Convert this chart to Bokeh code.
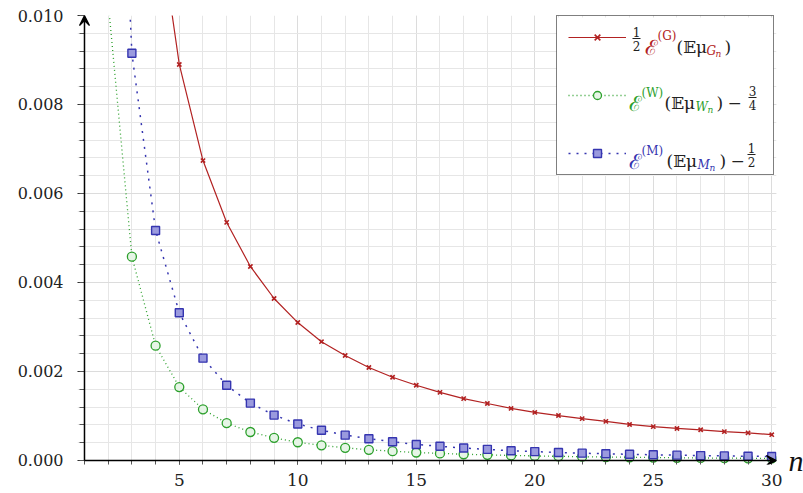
from bokeh.plotting import figure
from bokeh.models import (Range1d, SingleIntervalTicker, FixedTicker, PrintfTickFormatter,
                          Legend, LegendItem, Label, Arrow, VeeHead, BoxAnnotation, LinearAxis)
from bokeh.embed import file_html
from bokeh.resources import INLINE

# ---------------- data ----------------
n_g = list(range(4, 31))
g_half = [0.0126, 0.00890, 0.00674, 0.00535, 0.00436, 0.00364, 0.00310, 0.00267,
          0.00236, 0.00209, 0.00187, 0.00169, 0.00153, 0.00139, 0.00128, 0.00117,
          0.00108, 0.00101, 0.00094, 0.00088, 0.00081, 0.00076, 0.00072, 0.00069,
          0.00065, 0.00062, 0.00058]

n_w = list(range(2, 31))
w_minus = [0.0103, 0.00458, 0.00258, 0.00165, 0.00115, 0.00084, 0.00064, 0.00051,
           0.00041, 0.00034, 0.000285, 0.00024, 0.00021, 0.00018, 0.00016, 0.00014,
           0.000127, 0.000114, 0.000103, 0.000093, 0.000085, 0.000078, 0.000072,
           0.000066, 0.000061, 0.000057, 0.000053, 0.000049, 0.000046]

n_m = list(range(2, 31))
m_minus = [0.0205, 0.00915, 0.00517, 0.00332, 0.00230, 0.00169, 0.00129, 0.00102,
           0.00082, 0.00068, 0.00057, 0.00049, 0.00042, 0.00036, 0.00032, 0.00028,
           0.00025, 0.00022, 0.000200, 0.000180, 0.000165, 0.000150, 0.000140,
           0.000128, 0.000120, 0.000110, 0.000103, 0.000096, 0.000090]

x_major = 5          # major tick interval on n
y_major = 0.002      # major tick interval on the value axis

# axes origin (1, 0); ranges padded a few pixels so the arrows are not clipped
X0, Y0 = 1, 0.0
XMIN, XMAX = 0.705, 30.2
YMIN, YMAX = -0.00009, 0.010
FW, FH = 699, 449            # frame size in px
FL, FT = 77, 15              # frame left / top offsets in px

RED = "#b22222"
GREEN = "#2ca02c"
BLUE = "#3535b0"
BLUE_FILL = "#9a9ade"
SERIF = "DejaVu Serif"

p = figure(output_backend="svg", toolbar_location=None,
           frame_width=FW, frame_height=FH,
           x_range=Range1d(XMIN, XMAX), y_range=Range1d(YMIN, YMAX),
           min_border_left=FL, min_border_top=FT, min_border_right=0, min_border_bottom=0)
p.outline_line_color = None
p.background_fill_color = "white"

# axes (ticks drawn inward from the padded frame edge so they meet the arrow axes)
p.xaxis.ticker = SingleIntervalTicker(interval=x_major, num_minor_ticks=5)
p.yaxis.ticker = SingleIntervalTicker(interval=y_major, num_minor_ticks=5)
p.yaxis.formatter = PrintfTickFormatter(format="%.3f")
for ax in (p.xaxis, p.yaxis):
    ax.axis_line_color = None
    ax.major_tick_line_color = "#333333"
    ax.minor_tick_line_color = "#555555"
    ax.major_tick_out = 0
    ax.major_label_text_font = SERIF
    ax.major_label_text_color = "#222222"
p.xaxis.major_label_text_font_size = "17px"
p.yaxis.major_label_text_font_size = "16px"
p.xaxis.major_tick_in = 4
p.xaxis.minor_tick_in = 4
p.xaxis.minor_tick_out = 0
p.xaxis.major_label_standoff = 9
p.yaxis.major_tick_in = 7
p.yaxis.minor_tick_in = 7
p.yaxis.minor_tick_out = -2
p.yaxis.major_label_standoff = 14

# "n" written at the end of the horizontal axis (right-hand axis with a single label)
n_axis = LinearAxis(ticker=FixedTicker(ticks=[Y0]), major_label_overrides={Y0: "n"},
                    axis_line_color=None, major_tick_line_color=None,
                    minor_tick_line_color=None, major_label_standoff=6,
                    major_label_text_font="Liberation Serif",
                    major_label_text_font_style="italic",
                    major_label_text_font_size="30px", major_label_text_color="#111111")
p.add_layout(n_axis, "right")

# grids
for g in (p.xgrid, p.ygrid):
    g.grid_line_color = "#dcdcdc"
    g.minor_grid_line_color = "#e6e6e6"
    g.grid_line_width = 1

# series
r_g_line = p.line(n_g, g_half, line_color=RED, line_width=1.2)
r_g_pts = p.scatter(n_g, g_half, marker="x", size=6, line_color=RED, line_width=1.6)

r_w_line = p.line(n_w, w_minus, line_color=GREEN, line_width=1.3, line_dash="1 3")
r_w_pts = p.scatter(n_w, w_minus, marker="circle", size=9, line_color=GREEN,
                    fill_color="#e6f5e6", line_width=1.3)

r_m_line = p.line(n_m, m_minus, line_color=BLUE, line_width=1.5, line_dash="2 6")
r_m_pts = p.scatter(n_m, m_minus, marker="square", size=8, line_color=BLUE,
                    fill_color=BLUE_FILL, line_width=1.4)

# axis lines with arrows
head_kw = dict(size=10, fill_color="black", line_color="black", line_width=1.2)
p.add_layout(Arrow(end=VeeHead(**head_kw), x_start=X0, y_start=Y0, x_end=X0, y_end=YMAX,
                   line_color="black", line_width=1.5, level="overlay"))
p.add_layout(Arrow(end=VeeHead(**head_kw), x_start=X0, y_start=Y0, x_end=XMAX, y_end=Y0,
                   line_color="black", line_width=1.5, level="overlay"))


# page pixel positions -> data coordinates through the plot's own scale
def dx(px):
    return XMIN + (px - FL) / FW * (XMAX - XMIN)


def dy(py):
    return YMAX - (py - FT) / FH * (YMAX - YMIN)


# legend background (white box), then rich text, then the legend (samples + border)
LEG_L, LEG_R, LEG_T, LEG_B = 556, 773, 17, 175
p.add_layout(BoxAnnotation(left=dx(LEG_L), right=dx(LEG_R), top=dy(LEG_T), bottom=dy(LEG_B),
                           fill_color="white", fill_alpha=1, line_color=None,
                           level="overlay"))


def piece(text, px, py, size, color="#222222", style="normal", align="left", base="alphabetic"):
    p.add_layout(Label(x=dx(px), y=dy(py), text=text,
                       text_font=SERIF, text_font_size=f"{size}px", text_color=color,
                       text_font_style=style, text_align=align, text_baseline=base,
                       level="overlay"))


def frac(num, den, cx, cy):
    piece(num, cx, cy - 2, 12, align="center", base="bottom")
    piece(den, cx, cy + 2, 12, align="center", base="top")
    p.add_layout(BoxAnnotation(left=dx(cx - 4), right=dx(cx + 4),
                               bottom=dy(cy + 0.5), top=dy(cy - 0.5),
                               fill_color="#222222", fill_alpha=1, line_color=None,
                               level="overlay"))


# entry 1: 1/2 E^(G)(E mu_{G_n})
frac("1", "2", 636, 38)
piece("ℰ", 644, 47, 21, RED)
piece("(G)", 657, 35, 12, RED)
piece("(𝔼μ", 676, 46, 17)
piece("G", 706, 50, 12, RED, "italic")
piece("n", 715, 53, 9, RED, "italic")
piece(")", 724, 46, 17)

# entry 2: E^(W)(E mu_{W_n}) - 3/4
piece("ℰ", 628, 103, 21, GREEN)
piece("(W)", 641, 92, 12, GREEN)
piece("(𝔼μ", 664, 102, 17)
piece("W", 695, 106, 12, GREEN, "italic")
piece("n", 707, 109, 9, GREEN, "italic")
piece(")", 716, 102, 17)
piece("−", 727, 102, 17)
frac("3", "4", 752, 97)

# entry 3: E^(M)(E mu_{M_n}) - 1/2
piece("ℰ", 628, 161, 21, BLUE)
piece("(M)", 641, 150, 12, BLUE)
piece("(𝔼μ", 666, 160, 17)
piece("M", 697, 164, 12, BLUE, "italic")
piece("n", 709, 167, 9, BLUE, "italic")
piece(")", 719, 160, 17)
piece("−", 730, 160, 17)
frac("1", "2", 751, 154)

legend = Legend(items=[
    LegendItem(label=" ", renderers=[r_g_line, r_g_pts]),
    LegendItem(label=" ", renderers=[r_w_line, r_w_pts]),
    LegendItem(label=" ", renderers=[r_m_line, r_m_pts]),
], location=(LEG_L - FL, FT + FH - LEG_B), padding=11, spacing=38, glyph_width=58,
   glyph_height=20, label_height=20, label_width=131, label_standoff=5, margin=0,
   border_line_color="black", border_line_width=1.4, background_fill_alpha=0.0)
p.add_layout(legend, "center")

open("out.html", "w").write(file_html(p, INLINE))
